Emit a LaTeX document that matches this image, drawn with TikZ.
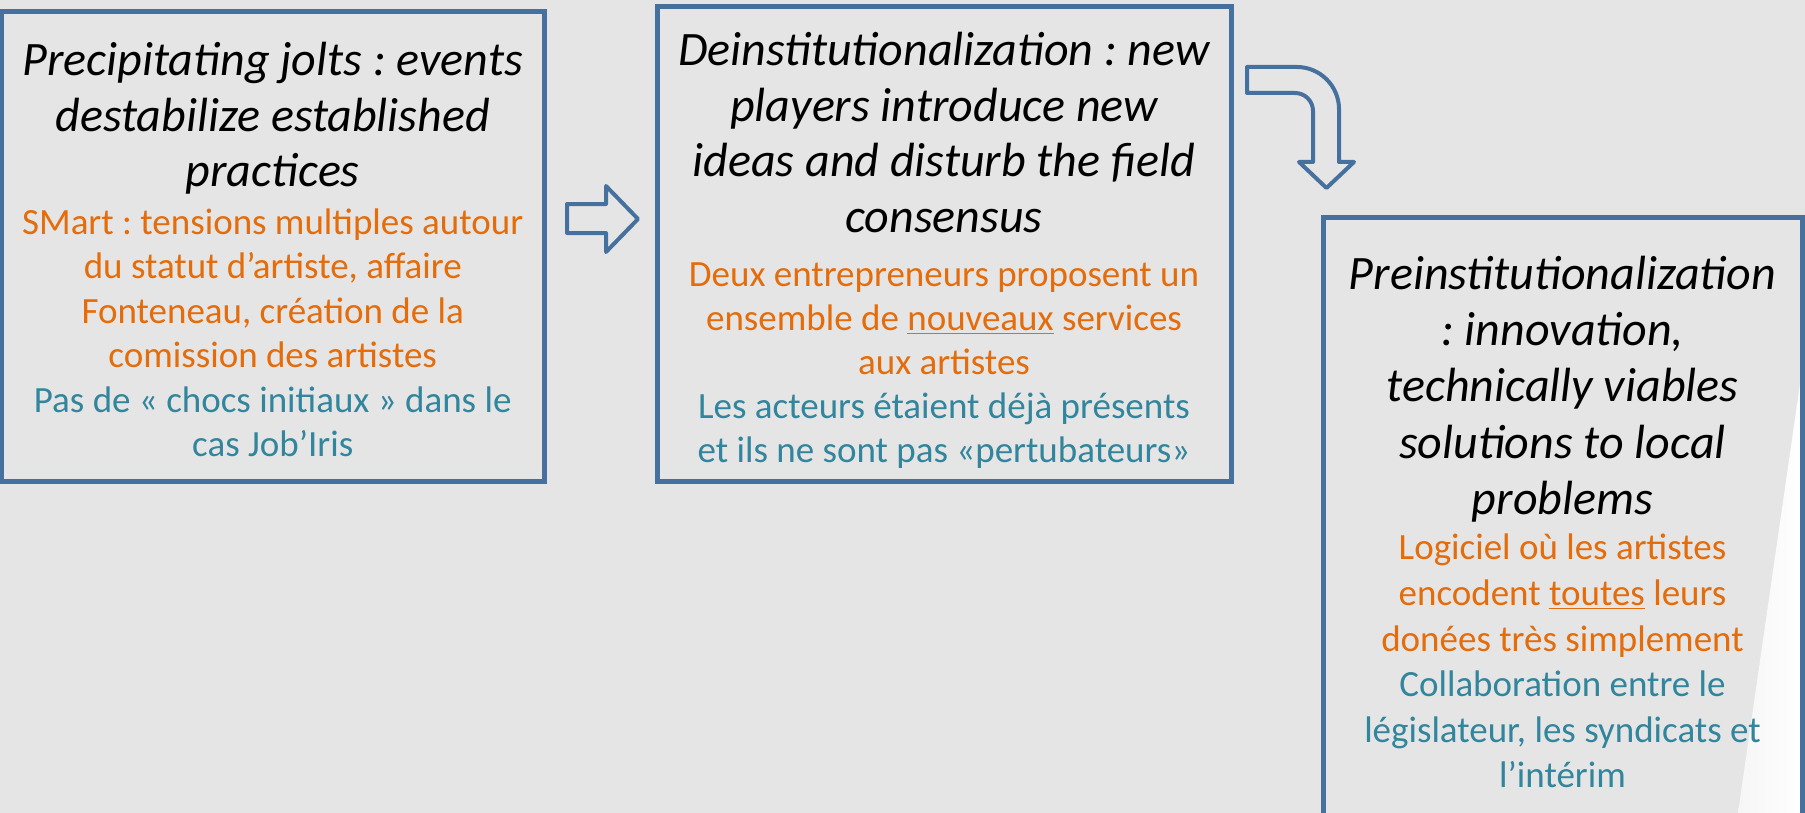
\documentclass[tikz,border=0pt]{standalone}
\usepackage{fontspec}
\setmainfont{Carlito}
\frenchspacing
\usetikzlibrary{positioning}
\definecolor{slidebg}{RGB}{229,229,229}
\definecolor{frameblue}{RGB}{70,113,158}
\definecolor{jolt}{RGB}{228,108,10}
\definecolor{casenote}{RGB}{49,133,156}

\begin{document}
\begin{tikzpicture}[x=0.5pt,y=-0.5pt,
	stageframe/.style={draw=frameblue, line width=2.5pt, inner sep=0pt},
	blockarrow/.style={draw=frameblue, line width=2pt, line join=round},
	stagetitle/.style={inner sep=0pt, align=center, font=\fontsize{24}{27.8}\selectfont\itshape},
	stagebody/.style={inner sep=0pt, align=center, font=\fontsize{18.5}{22.2}\selectfont}]
		\clip (0,0) rectangle (1805,813);
		\fill[slidebg] (0,0) rectangle (1805,813);
		\shade[left color=white!65!slidebg, right color=white] (1802,370) -- (1738,813) -- (1805,813) -- (1805,370) -- cycle;

		% the three stages
		\node[stageframe, minimum width=271.25pt, minimum height=234.75pt] (jolts) at (272.75,246.25) {};
		\node[stageframe, minimum width=287pt, minimum height=237pt] (deinst) at (944,244) {};
		\node[stageframe, minimum width=239.5pt, minimum height=341.5pt] (preinst) at (1562.5,558.5) {};

		\node[stagetitle, below = 13.6pt] (joltstitle) at (jolts.north) {\strut Precipitating jolts : events\\destabilize established\\practices};
		\node[stagebody, below = 97pt] (joltsbody) at (jolts.north) {\textcolor{jolt}{\strut SMart : tensions multiples autour}\\\textcolor{jolt}{du statut d’artiste, affaire}\\\textcolor{jolt}{Fonteneau, création de la}\\\textcolor{jolt}{comission des artistes}\\\textcolor{casenote}{Pas de « chocs initiaux » dans le}\\\textcolor{casenote}{cas Job’Iris}};

		\node[stagetitle, below = 10.9pt] (deinsttitle) at (deinst.north) {\strut Deinstitutionalization : new\\players introduce new\\ideas and disturb the field\\consensus};
		\node[stagebody, below = 125.5pt, font=\fontsize{18.5}{22}\selectfont] (deinstbody) at (deinst.north) {\textcolor{jolt}{\strut Deux entrepreneurs proposent un}\\\textcolor{jolt}{ensemble de \underline{nouveaux} services}\\\textcolor{jolt}{aux artistes}\\\textcolor{casenote}{Les acteurs étaient déjà présents}\\\textcolor{casenote}{et ils ne sont pas «pertubateurs»}};

		\node[stagetitle, below = 17.4pt, font=\fontsize{24}{28.2}\selectfont\itshape] (preinsttitle) at (preinst.north) {\strut Preinstitutionalization\\: innovation,\\technically viables\\solutions to local\\problems};
		\node[stagebody, below = 156.5pt, font=\fontsize{18.5}{22.8}\selectfont] (preinstbody) at (preinst.north) {\textcolor{jolt}{\strut Logiciel où les artistes}\\\textcolor{jolt}{encodent \underline{toutes} leurs}\\\textcolor{jolt}{donées très simplement}\\\textcolor{casenote}{Collaboration entre le}\\\textcolor{casenote}{législateur, les syndicats et}\\\textcolor{casenote}{l’intérim}};

		% block arrows
		\draw[blockarrow] (567,204) -- (606,204) -- (606,186) -- (638,219) -- (606,252) -- (606,233) -- (567,233) -- cycle;
		\draw[blockarrow] (1247,67) -- (1297,67) .. controls (1320,67) and (1339,86) .. (1339,109) -- (1339,162) -- (1354,162) -- (1326.5,188) -- (1299,162) -- (1313,162) -- (1313,111) .. controls (1313,101) and (1305,93) .. (1295,93) -- (1247,93) -- cycle;
\end{tikzpicture}
\end{document}
